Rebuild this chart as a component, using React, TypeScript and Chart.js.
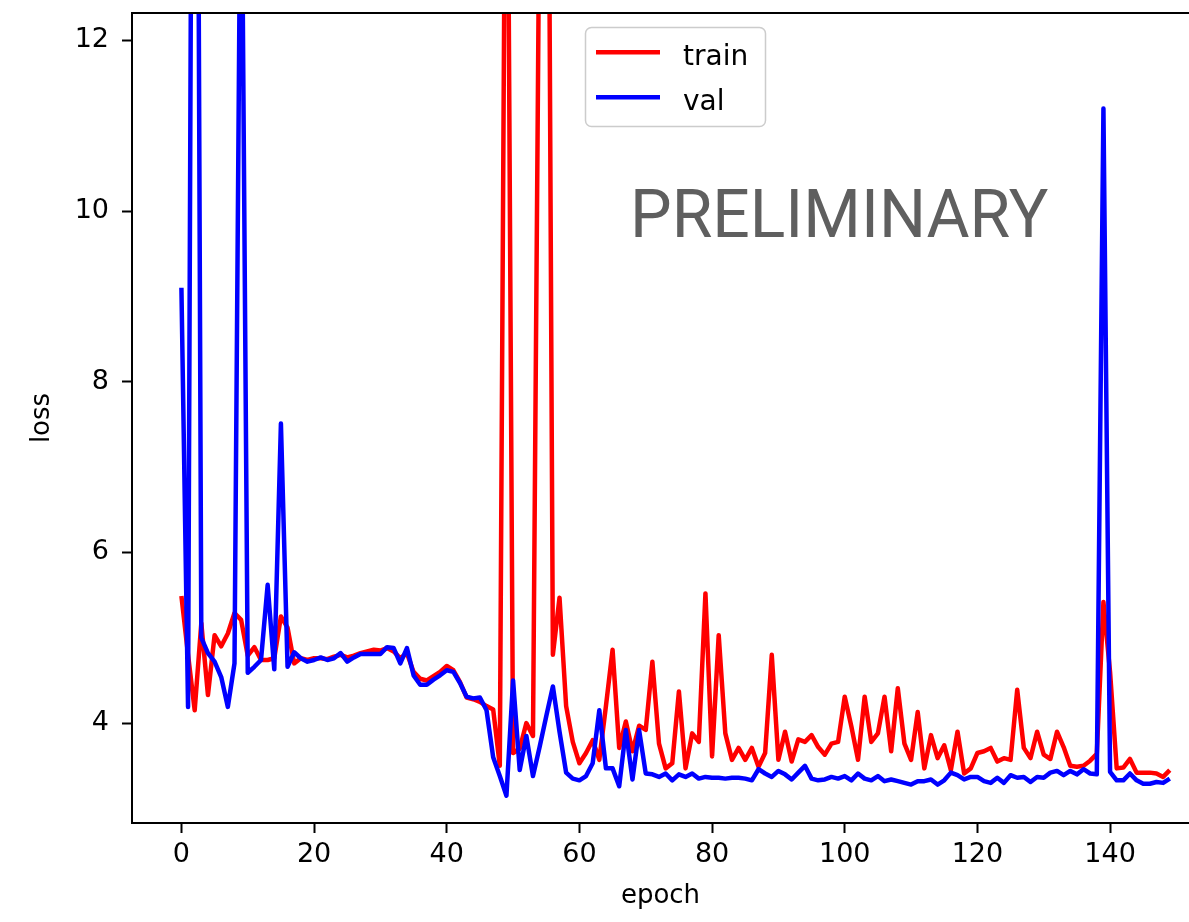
import React, { useEffect, useRef } from "react";
import { Chart, registerables } from "chart.js";

Chart.register(...registerables);

// Loss per epoch (epochs 0..149)
const TRAIN_LOSS = [
  5.49, 4.8, 4.15, 5.17, 4.33, 5.03, 4.9, 5.05, 5.29, 5.21,
  4.79, 4.89, 4.74, 4.74, 4.76, 5.25, 5.12, 4.7, 4.76, 4.74,
  4.76, 4.76, 4.75, 4.78, 4.8, 4.77, 4.79, 4.82, 4.84, 4.86,
  4.85, 4.88, 4.84, 4.76, 4.82, 4.6, 4.52, 4.5, 4.55, 4.6,
  4.67, 4.62, 4.48, 4.3, 4.28, 4.25, 4.2, 4.16, 3.5, 17.0,
  3.65, 3.7, 4.0, 3.85, 14.0, 20.0, 4.8, 5.47, 4.2, 3.78,
  3.53, 3.65, 3.8, 3.57, 4.2, 4.86, 3.71, 4.02, 3.67, 3.97,
  3.92, 4.72, 3.76, 3.47, 3.53, 4.37, 3.47, 3.88, 3.78, 5.52,
  3.61, 5.03, 3.88, 3.57, 3.71, 3.57, 3.71, 3.49, 3.65, 4.8,
  3.57, 3.9, 3.55, 3.81, 3.78, 3.86, 3.72, 3.63, 3.76, 3.78,
  4.31, 3.96, 3.57, 4.31, 3.78, 3.88, 4.31, 3.67, 4.41, 3.76,
  3.57, 4.13, 3.47, 3.86, 3.59, 3.74, 3.45, 3.9, 3.41, 3.47,
  3.65, 3.67, 3.71, 3.55, 3.59, 3.57, 4.39, 3.71, 3.59, 3.9,
  3.63, 3.58, 3.9, 3.72, 3.5, 3.49, 3.5, 3.56, 3.64, 5.42,
  4.6, 3.47, 3.48, 3.58, 3.42, 3.42, 3.42, 3.41, 3.37, 3.45,
];

const VAL_LOSS = [
  9.1, 4.19, 24.0, 5.0, 4.82, 4.72, 4.54, 4.19, 4.7, 15.0,
  4.59, 4.66, 4.74, 5.62, 4.63, 7.51, 4.66, 4.83, 4.76, 4.72,
  4.74, 4.77, 4.74, 4.76, 4.82, 4.72, 4.77, 4.81, 4.81, 4.81,
  4.81, 4.89, 4.88, 4.7, 4.88, 4.56, 4.45, 4.45, 4.51, 4.56,
  4.62, 4.6, 4.47, 4.31, 4.29, 4.3, 4.15, 3.6, 3.38, 3.15,
  4.5, 3.45, 3.85, 3.38, 3.72, 4.08, 4.43, 3.9, 3.42, 3.35,
  3.33, 3.38, 3.53, 4.15, 3.47, 3.47, 3.26, 3.92, 3.34, 3.92,
  3.41, 3.4, 3.37, 3.41, 3.33, 3.4, 3.37, 3.41, 3.35, 3.37,
  3.36, 3.36, 3.35, 3.36, 3.36, 3.35, 3.33, 3.46, 3.41, 3.37,
  3.44, 3.4, 3.34, 3.42, 3.5, 3.35, 3.33, 3.34, 3.37, 3.35,
  3.38, 3.33, 3.41, 3.35, 3.33, 3.38, 3.32, 3.34, 3.32, 3.3,
  3.28, 3.32, 3.32, 3.34, 3.28, 3.33, 3.42, 3.39, 3.34, 3.37,
  3.37, 3.32, 3.3, 3.36, 3.3, 3.39, 3.36, 3.37, 3.31, 3.37,
  3.36, 3.42, 3.44, 3.39, 3.44, 3.4, 3.46, 3.41, 3.4, 11.2,
  3.43, 3.33, 3.33, 3.41, 3.33, 3.29, 3.29, 3.31, 3.3, 3.35,
];

const EPOCHS = TRAIN_LOSS.map((_, i) => i);

const SERIES_NAMES = ["train", "val"];
const SERIES_COLORS = ["#ff0000", "#0000ff"];
const X_TICKS = [0, 20, 40, 60, 80, 100, 120, 140];
const Y_TICKS = [4, 6, 8, 10, 12];
const X_LIMITS = [-7.45, 151.9];
const Y_LIMITS = [2.83, 12.32];
const X_TITLE = "epoch";
const Y_TITLE = "loss";
const STAMP = "PRELIMINARY";

const WIDTH = 1189;
const HEIGHT = 922;
const FONT = "'DejaVu Sans', sans-serif";

// top spine, legend box and the stamp text
const overlayPlugin = {
  id: "overlay",
  afterDraw(chart: any) {
    const { ctx, chartArea } = chart;
    ctx.save();
    // top spine
    ctx.strokeStyle = "#000";
    ctx.lineWidth = 2;
    ctx.beginPath();
    ctx.moveTo(chartArea.left - 1, chartArea.top);
    ctx.lineTo(chartArea.right + 1, chartArea.top);
    ctx.stroke();

    // stamp
    ctx.fillStyle = "#5f5f5f";
    ctx.font = "66px Roboto, 'Liberation Sans', sans-serif";
    ctx.textBaseline = "alphabetic";
    ctx.textAlign = "left";
    ctx.fillText(STAMP, 630, 237);

    // legend
    const bx = 585.5, by = 27.5, bw = 180, bh = 99, r = 6;
    ctx.beginPath();
    ctx.moveTo(bx + r, by);
    ctx.arcTo(bx + bw, by, bx + bw, by + bh, r);
    ctx.arcTo(bx + bw, by + bh, bx, by + bh, r);
    ctx.arcTo(bx, by + bh, bx, by, r);
    ctx.arcTo(bx, by, bx + bw, by, r);
    ctx.closePath();
    ctx.fillStyle = "rgba(255,255,255,0.8)";
    ctx.fill();
    ctx.strokeStyle = "#cccccc";
    ctx.lineWidth = 1.5;
    ctx.stroke();

    const rows = [52.3, 97.3];
    SERIES_NAMES.forEach((name, i) => {
      const y = rows[i];
      ctx.strokeStyle = SERIES_COLORS[i];
      ctx.lineWidth = 4.5;
      ctx.lineCap = "butt";
      ctx.beginPath();
      ctx.moveTo(596, y);
      ctx.lineTo(660, y);
      ctx.stroke();
      ctx.fillStyle = "#000";
      ctx.font = `28px ${FONT}`;
      ctx.textBaseline = "alphabetic";
      ctx.fillText(name, 683, y + 12.7);
    });
    ctx.restore();
  },
};

export default function App() {
  const canvasRef = useRef<HTMLCanvasElement | null>(null);

  useEffect(() => {
    const canvas = canvasRef.current;
    if (!canvas) return;
    const series = [TRAIN_LOSS, VAL_LOSS];
    const chart = new Chart(canvas, {
      type: "line",
      data: {
        datasets: series.map((vals, i) => ({
          label: SERIES_NAMES[i],
          data: EPOCHS.map((e, k) => ({ x: e, y: vals[k] })),
          borderColor: SERIES_COLORS[i],
          backgroundColor: SERIES_COLORS[i],
          borderWidth: 4.5,
          pointRadius: 0,
          tension: 0,
          fill: false,
          borderJoinStyle: "round" as const,
          clip: 0,
          order: i === 0 ? 1 : 0,
        })),
      },
      options: {
        animation: false,
        responsive: false,
        devicePixelRatio: 1,
        layout: { padding: { top: 13, left: 0, right: 0, bottom: 0 } },
        plugins: {
          legend: { display: false },
          tooltip: { enabled: false },
        },
        scales: {
          x: {
            type: "linear",
            min: X_LIMITS[0],
            max: X_LIMITS[1],
            afterBuildTicks: (scale: any) => {
              scale.ticks = X_TICKS.map((v) => ({ value: v }));
            },
            afterFit: (scale: any) => {
              scale.height = 99;
              scale.paddingLeft = 0;
              scale.paddingRight = 0;
            },
            ticks: {
              color: "#000",
              font: { family: FONT, size: 27 },
              padding: 6,
              maxRotation: 0,
              autoSkip: false,
              callback: (v: any) => String(v),
            },
            grid: {
              drawOnChartArea: false,
              drawTicks: true,
              tickLength: 10,
              tickWidth: 2,
              tickColor: "#000",
              color: "#000",
            },
            border: { display: true, color: "#000", width: 2 },
            title: {
              display: true,
              text: X_TITLE,
              color: "#000",
              font: { family: FONT, size: 26 },
              padding: { top: 0, bottom: 10 },
            },
          },
          y: {
            type: "linear",
            min: Y_LIMITS[0],
            max: Y_LIMITS[1],
            afterBuildTicks: (scale: any) => {
              scale.ticks = Y_TICKS.map((v) => ({ value: v }));
            },
            afterFit: (scale: any) => {
              scale.width = 132;
              scale.paddingTop = 0;
              scale.paddingBottom = 0;
            },
            ticks: {
              color: "#000",
              font: { family: FONT, size: 27 },
              padding: 13,
              autoSkip: false,
              callback: (v: any) => String(v),
            },
            grid: {
              drawOnChartArea: false,
              drawTicks: true,
              tickLength: 10,
              tickWidth: 2,
              tickColor: "#000",
              color: "#000",
            },
            border: { display: true, color: "#000", width: 2 },
            title: {
              display: true,
              text: Y_TITLE,
              color: "#000",
              font: { family: FONT, size: 26 },
              padding: { top: 27, bottom: 0 },
            },
          },
        },
      },
      plugins: [overlayPlugin],
    });
    return () => chart.destroy();
  }, []);

  return (
    <div
      style={{
        position: "absolute",
        left: 0,
        top: 0,
        width: WIDTH,
        height: HEIGHT,
        overflow: "hidden",
        background: "#fff",
      }}
    >
      <canvas
        ref={canvasRef}
        width={WIDTH}
        height={HEIGHT}
        style={{ width: WIDTH, height: HEIGHT, display: "block" }}
      />
    </div>
  );
}
